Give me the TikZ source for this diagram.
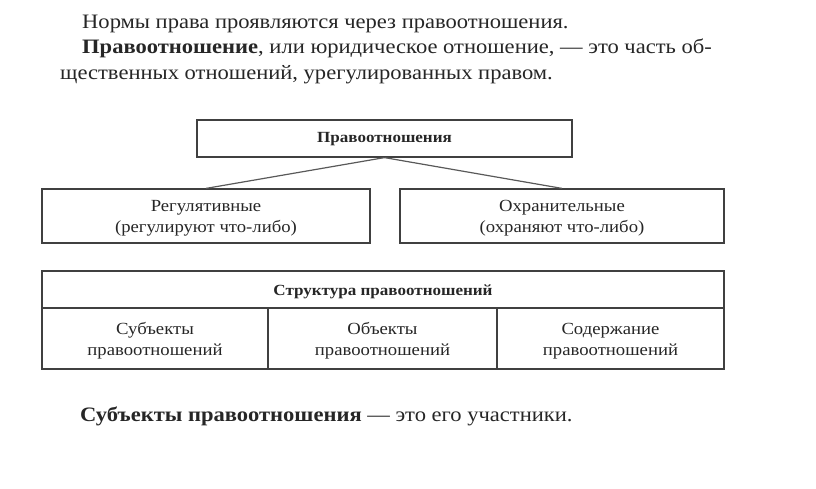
\documentclass[tikz,border=0pt]{standalone}
\usepackage{fontspec}
\setmainfont[FakeStretch=1.1]{Liberation Serif}
\begin{document}
\begin{tikzpicture}
  [x=1pt,y=-1pt,
   every node/.style={text=black!85},
   txt/.style={anchor=base west,inner sep=0pt,font=\fontsize{20.5}{24}\selectfont},
   box/.style={draw=black!75,line width=1.2pt,inner sep=0pt},
   lbl/.style={align=center,inner sep=0pt,font=\fontsize{17}{21}\selectfont},
   head/.style={lbl,font=\bfseries\fontsize{15.5}{18}\selectfont},
   link/.style={draw=black!65,line width=1.2pt}]
  \useasboundingbox (0,0) rectangle (816,489);

  \node[txt] (l1) at (82,29) {Нормы права проявляются через правоотношения.};
  \node[txt] (l2) at (82,54) {\textbf{Правоотношение}, или юридическое отношение, --- это часть об-};
  \node[txt] (l3) at (60,80) {щественных отношений, урегулированных правом.};

  \node[box,minimum width=375pt,minimum height=37pt] (top) at (384.5,138.5) {};
  \node[box,minimum width=328pt,minimum height=54pt] (reg) at (206,216) {};
  \node[box,minimum width=324pt,minimum height=54pt] (ohr) at (562,216) {};
  \node[head] (topt) at (384.5,139.5) {Правоотношения};
  \node[lbl] (regt) at (206,218) {Регулятивные\\(регулируют что-либо)};
  \node[lbl] (ohrt) at (562,218) {Охранительные\\(охраняют что-либо)};

  \foreach \from/\to in {top/reg,top/ohr}
    \draw[link] (\from.south) -- (\to.north);

  \node[box,minimum width=682pt,minimum height=37pt] (str) at (383,289.5) {};
  \node[box,minimum width=226pt,minimum height=61pt] (sub) at (155,338.5) {};
  \node[box,minimum width=229pt,minimum height=61pt] (obj) at (382.5,338.5) {};
  \node[box,minimum width=227pt,minimum height=61pt] (sod) at (610.5,338.5) {};
  \node[head] (strt) at (383,292) {Структура правоотношений};
  \node[lbl] (subt) at (155,341) {Субъекты\\правоотношений};
  \node[lbl] (objt) at (382.5,341) {Объекты\\правоотношений};
  \node[lbl] (sodt) at (610.5,341) {Содержание\\правоотношений};

  \node[txt] (l4) at (80,421) {\textbf{Субъекты правоотношения} --- это его участники.};
\end{tikzpicture}
\end{document}
